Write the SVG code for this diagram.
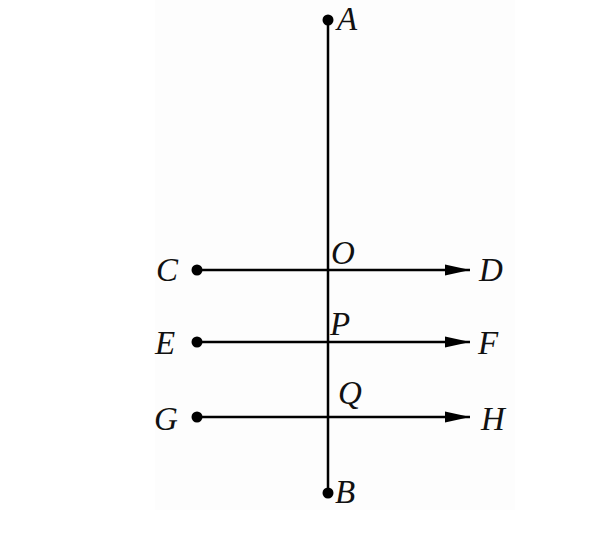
<svg xmlns="http://www.w3.org/2000/svg" width="600" height="560" viewBox="0 0 600 560">
<style>
.ln{stroke:#000;stroke-width:2.5;fill:none}
.dot{fill:#000}
.lb{font-family:"Liberation Serif","Times New Roman",serif;font-style:italic;font-size:33px;fill:#111}
</style>
<defs>
<marker id="arr" markerUnits="userSpaceOnUse" markerWidth="26" markerHeight="12" refX="25" refY="6" orient="auto">
<path d="M0,0.5 L25,6 L0,11.5 Z" fill="#000"/>
</marker>
</defs>
<rect x="0" y="0" width="600" height="560" fill="#fff"/>
<rect x="155" y="0" width="360" height="510" fill="#fdfdfd"/>
<g id="connectors">
<line class="ln" x1="328" y1="20" x2="328" y2="493"/>
<line class="ln" x1="197" y1="270" x2="470" y2="270" marker-end="url(#arr)"/>
<line class="ln" x1="197" y1="342" x2="470" y2="342" marker-end="url(#arr)"/>
<line class="ln" x1="197" y1="417" x2="470" y2="417" marker-end="url(#arr)"/>
</g>
<g id="A"><circle class="dot" cx="328" cy="20" r="5.5"/><text class="lb" x="337" y="30">A</text></g>
<g id="B"><circle class="dot" cx="328" cy="493" r="5.5"/><text class="lb" x="335" y="503">B</text></g>
<g id="C"><circle class="dot" cx="197" cy="270" r="5.5"/><text class="lb" x="156" y="281">C</text></g>
<g id="D"><text class="lb" x="479" y="281">D</text></g>
<g id="O"><text class="lb" x="331" y="264">O</text></g>
<g id="E"><circle class="dot" cx="197" cy="342" r="5.5"/><text class="lb" x="155" y="354">E</text></g>
<g id="F"><text class="lb" x="478" y="354">F</text></g>
<g id="P"><text class="lb" x="330" y="335">P</text></g>
<g id="G"><circle class="dot" cx="197" cy="417" r="5.5"/><text class="lb" x="154" y="430">G</text></g>
<g id="H"><text class="lb" x="481" y="430">H</text></g>
<g id="Q"><text class="lb" x="338" y="404">Q</text></g>
</svg>
